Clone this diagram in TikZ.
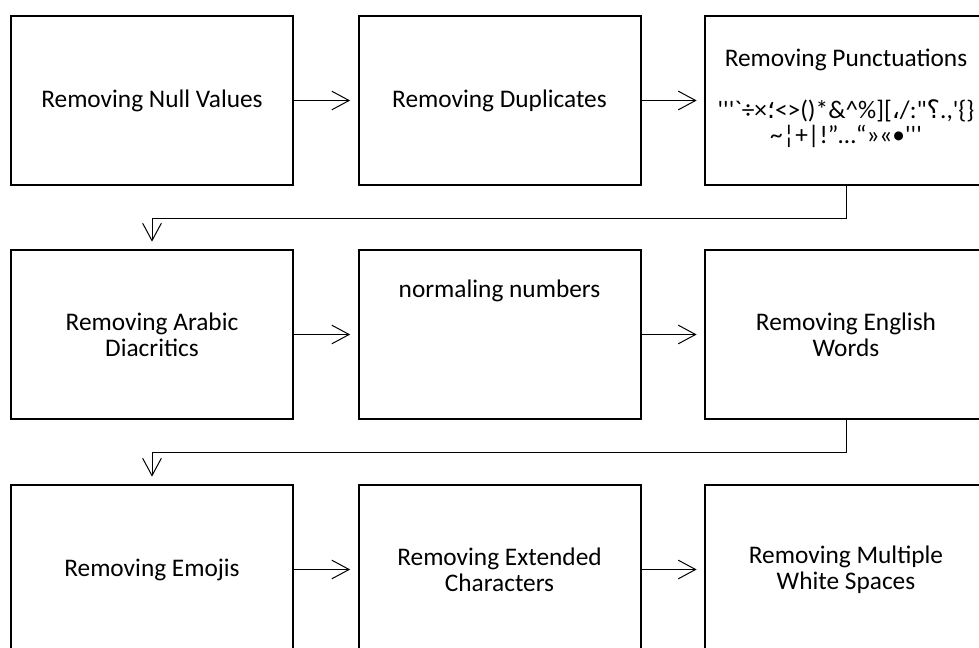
\documentclass[tikz,border=0pt]{standalone}
\usepackage{fontspec}
\setmainfont{Carlito}
\newfontfamily\punctfont{Carlito}[Ligatures=TeXOff]
\newfontfamily\arabicfont{DejaVu Sans}
\newcommand{\arp}[1]{{\arabicfont #1}}
\usetikzlibrary{arrows.meta,positioning}

\begin{document}
\begin{tikzpicture}[x=0.75pt, y=-0.75pt,
    stage/.style={draw, line width=1.5pt, minimum width=211.5pt, minimum height=126.75pt,
                  align=center, font=\fontsize{19}{19.5}\selectfont, inner sep=0pt},
    txt/.style={align=center, font=\fontsize{19}{19.5}\selectfont, inner sep=0pt},
    flow/.style={-{Straight Barb[length=13pt, width=14pt]}, line width=0.75pt, shorten >=5.5pt}]
    % page frame
    \useasboundingbox (0,0) rectangle (979,648);
    \clip (0,0) rectangle (979,648);

    % Row 1
    \node[stage] (nulls) at (152,100.5) {Removing Null Values};
    \node[stage] (dups)  at (499.5,100.5) {Removing Duplicates};
    \node[stage] (punct) at (846,100.5) {};
    \node[txt] (punctT) at ([yshift=-34pt]punct.north) {Removing Punctuations};
    \node[txt, font=\punctfont\fontsize{19}{18.75}\selectfont] (punctL) at ([yshift=-81.5pt]punct.north)
        {'''`÷×\arp{؛}<>()*\&\textasciicircum\%][\arp{،}/:"\arp{؟}.,'\{\}\\
         \textasciitilde¦+|!”…“»«•'''};

    % Row 2
    \node[stage] (diacr) at (152,334.5) {Removing Arabic\\Diacritics};
    \node[stage] (nums)  at (499.5,334.5) {};
    \node[txt] (numsT) at ([yshift=-31.5pt]nums.north) {normaling numbers};
    \node[stage] (engl)  at (846,334.5) {Removing English\\Words};

    % Row 3
    \node[stage] (emoji) at (152,569.5) {Removing Emojis};
    \node[stage] (ext)   at (499.5,569.5) {Removing Extended\\Characters};
    \node[stage] (space) at (846,569.5) {Removing Multiple\\White Spaces};

    % Arrows along the rows
    \draw[flow] (nulls) -- (dups);
    \draw[flow] (dups) -- (punct);
    \draw[flow] (diacr) -- (nums);
    \draw[flow] (nums) -- (engl);
    \draw[flow] (emoji) -- (ext);
    \draw[flow] (ext) -- (space);

    % Wrap to the next row
    \draw[flow] (punct.south) -- ++(0,33) -| (diacr.north);
    \draw[flow] (engl.south) -- ++(0,33) -| (emoji.north);
\end{tikzpicture}
\end{document}
